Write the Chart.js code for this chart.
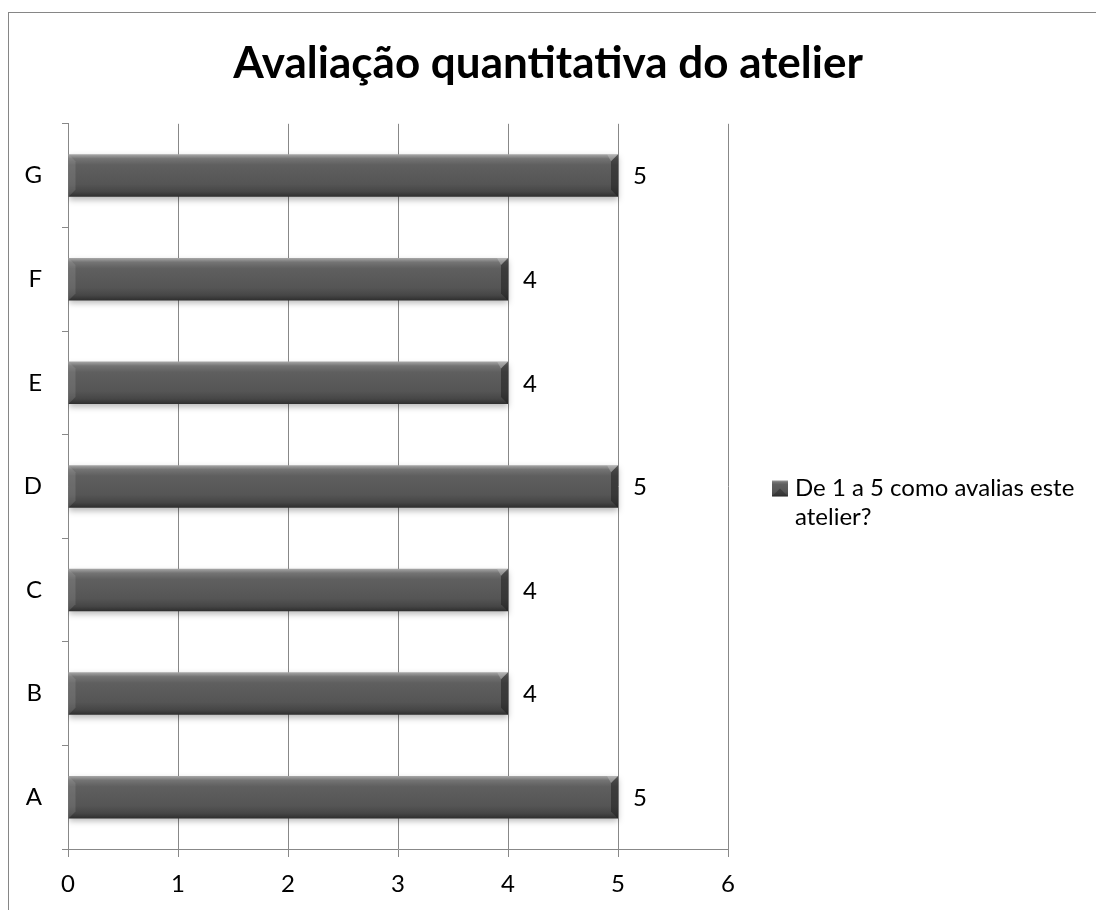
<!DOCTYPE html>
<html>
<head>
<meta charset="utf-8">
<title>Avaliação quantitativa do atelier</title>
<script src="https://cdn.jsdelivr.net/npm/chart.js@4/dist/chart.umd.min.js"></script>
<style>
  html, body { margin: 0; padding: 0; background: #fff; overflow: hidden; }
  #frame {
    position: absolute; left: 8px; top: 12px; right: -20px; bottom: -20px;
    border-left: 1px solid #868686; border-top: 1px solid #868686;
  }
  #wrap { position: absolute; left: 0; top: 0; width: 1096px; height: 910px; }
</style>
</head>
<body>
<div id="frame"></div>
<div id="wrap"><canvas id="chart"></canvas></div>
<script>
const chartTitle = 'Avaliação quantitativa do atelier';
const categories = ['A', 'B', 'C', 'D', 'E', 'F', 'G'];
const scores = [5, 4, 4, 5, 4, 4, 5];
const xMin = 0;
const xMax = 6;
const seriesLabel = ['De 1 a 5 como avalias este', 'atelier?'];

const FONT = 'Lato, Calibri, "Open Sans", sans-serif';
const TEXT_SIZE = 24;
const GRID = '#888888';
const BAR_PCT = 0.41;
const LEGEND_WIDTH = 368;

// vertical shading of a bar between its top and bottom edge
function shade(ctx2d, top, bottom) {
  const g = ctx2d.createLinearGradient(0, top, 0, bottom);
  g.addColorStop(0, '#a8a8a8');
  g.addColorStop(0.1, '#747474');
  g.addColorStop(0.25, '#5f5f5f');
  g.addColorStop(0.7, '#555555');
  g.addColorStop(0.88, '#464646');
  g.addColorStop(1, '#2e2e2e');
  return g;
}

function barFill(context) {
  const chart = context.chart;
  const y = chart.scales.y;
  if (!y || !chart.chartArea) return '#555555';
  const center = y.getPixelForValue(context.dataIndex);
  const half = (y.height / categories.length) * BAR_PCT / 2;
  return shade(chart.ctx, center - half, center + half);
}

// soft shadow under the bars
const barShadow = {
  id: 'barShadow',
  beforeDatasetDraw(chart) {
    const c = chart.ctx;
    c.save();
    c.shadowColor = 'rgba(0,0,0,0.28)';
    c.shadowBlur = 6;
    c.shadowOffsetY = 3;
  },
  afterDatasetDraw(chart) {
    chart.ctx.restore();
  }
};

// bevelled ends and value labels
const barExtras = {
  id: 'barExtras',
  afterDatasetsDraw(chart) {
    const c = chart.ctx;
    const meta = chart.getDatasetMeta(0);
    meta.data.forEach((el, i) => {
      const top = el.y - el.height / 2;
      const bot = el.y + el.height / 2;
      const left = el.base;
      const right = el.x;
      const b = 7;
      c.save();
      // right end: dark face with a lit corner on top
      c.fillStyle = 'rgba(25,25,25,0.5)';
      c.beginPath();
      c.moveTo(right - b, top + b);
      c.lineTo(right, top);
      c.lineTo(right, bot);
      c.lineTo(right - b, bot - b);
      c.closePath();
      c.fill();
      c.fillStyle = 'rgba(210,210,210,0.35)';
      c.beginPath();
      c.moveTo(right - b, top + b);
      c.lineTo(right, top);
      c.lineTo(right - b - 4, top);
      c.closePath();
      c.fill();
      // left end: faint lit face
      c.fillStyle = 'rgba(190,190,190,0.18)';
      c.beginPath();
      c.moveTo(left, top);
      c.lineTo(left + b, top + b);
      c.lineTo(left + b, bot - b);
      c.lineTo(left, bot);
      c.closePath();
      c.fill();
      c.restore();

      c.save();
      c.font = TEXT_SIZE + 'px ' + FONT;
      c.fillStyle = '#000';
      c.textAlign = 'left';
      c.textBaseline = 'middle';
      c.fillText(String(scores[i]), right + 15, el.y + 1);
      c.restore();
    });
  }
};

// legend to the right of the plot, label wrapped on two lines
const sideLegend = {
  id: 'sideLegend',
  afterDraw(chart) {
    const c = chart.ctx;
    const area = chart.chartArea;
    const mx = area.right + 44;
    const my = (area.top + area.bottom) / 2 - 6;
    const s = 16;
    c.save();
    c.fillStyle = shade(c, my, my + s);
    c.fillRect(mx, my, s, s);
    c.fillStyle = 'rgba(40,40,40,0.5)';
    c.beginPath();
    c.moveTo(mx, my + s);
    c.lineTo(mx + s / 2, my + s / 2);
    c.lineTo(mx + s, my + s);
    c.closePath();
    c.fill();
    c.font = TEXT_SIZE + 'px ' + FONT;
    c.fillStyle = '#000';
    c.textAlign = 'left';
    c.textBaseline = 'middle';
    seriesLabel.forEach((line, k) => {
      c.fillText(line, mx + s + 7, my + s / 2 + k * 29);
    });
    c.restore();
  }
};

new Chart(document.getElementById('chart'), {
  type: 'bar',
  data: {
    labels: categories,
    datasets: [{
      label: seriesLabel.join(' '),
      data: scores,
      backgroundColor: barFill,
      borderWidth: 0,
      categoryPercentage: 1,
      barPercentage: BAR_PCT
    }]
  },
  options: {
    indexAxis: 'y',
    responsive: true,
    maintainAspectRatio: false,
    animation: false,
    devicePixelRatio: 1,
    layout: { padding: 0 },
    plugins: {
      legend: { display: false },
      tooltip: { enabled: false },
      title: {
        display: true,
        text: chartTitle,
        color: '#000',
        font: { family: FONT, size: 44, weight: 'bold', lineHeight: 1.2 },
        padding: { top: 37, bottom: 34 }
      }
    },
    scales: {
      x: {
        min: xMin,
        max: xMax,
        ticks: { stepSize: 1, color: '#000', padding: 13, font: { family: FONT, size: TEXT_SIZE } },
        grid: { color: GRID, tickLength: 8, tickColor: GRID },
        border: { color: GRID },
        afterFit(s) { s.height = 61; }
      },
      y: {
        reverse: true,
        ticks: { color: '#000', padding: 20, font: { family: FONT, size: TEXT_SIZE } },
        grid: { drawOnChartArea: false, tickLength: 6, color: GRID, offset: true },
        border: { color: GRID },
        afterFit(s) { s.width = 68; }
      },
      // empty right-hand axis that keeps room for the legend
      side: {
        type: 'category',
        position: 'right',
        labels: categories,
        ticks: { display: false },
        grid: { display: false },
        border: { display: false },
        afterFit(s) { s.width = LEGEND_WIDTH; }
      }
    }
  },
  plugins: [barShadow, barExtras, sideLegend]
});
</script>
</body>
</html>
